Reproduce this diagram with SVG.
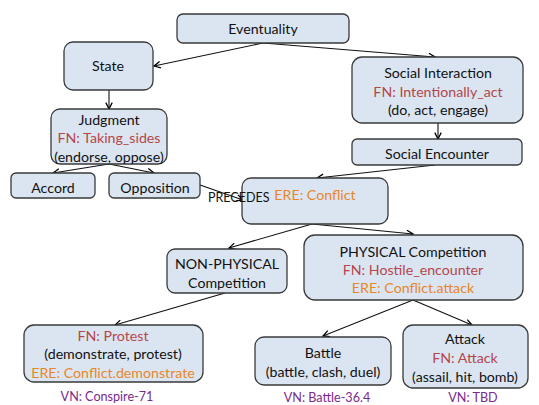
<svg xmlns="http://www.w3.org/2000/svg" width="539" height="405" viewBox="0 0 539 405">
<defs>
<marker id="ah" viewBox="0 0 10 10" refX="9" refY="5" markerWidth="8" markerHeight="8" markerUnits="userSpaceOnUse" orient="auto">
<path d="M1,1 L9,5 L1,9" fill="none" stroke="#000" stroke-width="1.6"/>
</marker>
<style>
.b{fill:#dbe5f1;stroke:#3a3a3a;stroke-width:1.3}
text{font-family:Lato,"Liberation Sans",sans-serif;font-size:14.2px;text-anchor:middle;fill:#111}
.fn{fill:#b5464a}
.ere{fill:#e8862a}
.vn{fill:#7a2a8c;font-size:12.6px}
.pr{font-size:12.5px;text-anchor:start}
.c line{stroke:#111;stroke-width:1.1;marker-end:url(#ah)}
</style>
</defs>
<g class="c">
<line x1="263" y1="43" x2="154" y2="66"/>
<line x1="263" y1="43" x2="435" y2="57"/>
<line x1="438" y1="123" x2="438" y2="139"/>
<line x1="435" y1="165" x2="317" y2="178"/>
<line x1="109" y1="90" x2="109" y2="109"/>
<line x1="109" y1="164" x2="53" y2="173"/>
<line x1="109" y1="164" x2="154" y2="173"/>
<line x1="200" y1="185" x2="243" y2="200"/>
<line x1="312" y1="224" x2="229" y2="248"/>
<line x1="312" y1="224" x2="413" y2="234"/>
<line x1="225" y1="293" x2="115" y2="325"/>
<line x1="413" y1="300" x2="323" y2="336"/>
<line x1="413" y1="300" x2="472" y2="325"/>
</g>
<g id="eventuality"><rect class="b" x="177" y="14" width="172" height="29" rx="6"/><text x="263" y="34">Eventuality</text></g>
<g id="state"><rect class="b" x="64" y="42" width="89" height="48" rx="9"/><text x="108" y="71">State</text></g>
<g id="social-interaction"><rect class="b" x="352" y="57" width="171" height="66" rx="10"/>
<text x="438" y="78">Social Interaction</text><text class="fn" x="438" y="97">FN: Intentionally_act</text><text x="438" y="115">(do, act, engage)</text></g>
<g id="social-encounter"><rect class="b" x="352" y="139" width="170" height="26" rx="5"/><text x="437" y="159">Social Encounter</text></g>
<g id="judgment"><rect class="b" x="51" y="109" width="116" height="55" rx="9"/>
<text x="109" y="125">Judgment</text><text class="fn" x="109" y="143">FN: Taking_sides</text><text x="109" y="162">(endorse, oppose)</text></g>
<g id="accord"><rect class="b" x="11" y="173" width="84" height="25" rx="5"/><text x="53" y="193">Accord</text></g>
<g id="opposition"><rect class="b" x="109" y="173" width="91" height="25" rx="5"/><text x="155" y="193">Opposition</text></g>
<g id="conflict"><rect class="b" x="242" y="178" width="146" height="46" rx="9"/><text class="ere" x="315" y="200">ERE: Conflict</text></g>
<text class="pr" x="208" y="202">PRECEDES</text>
<g id="non-physical"><rect class="b" x="167" y="249" width="120" height="44" rx="8"/>
<text x="227" y="269">NON-PHYSICAL</text><text x="227" y="288">Competition</text></g>
<g id="physical"><rect class="b" x="304" y="235" width="219" height="65" rx="11"/>
<text x="413" y="257">PHYSICAL Competition</text><text class="fn" x="413" y="275">FN: Hostile_encounter</text><text class="ere" x="413" y="293">ERE: Conflict.attack</text></g>
<g id="protest"><rect class="b" x="24" y="325" width="179" height="57" rx="10"/>
<text class="fn" x="113" y="341">FN: Protest</text><text x="113" y="359">(demonstrate, protest)</text><text class="ere" x="113" y="378">ERE: Conflict.demonstrate</text></g>
<text class="vn" x="107" y="401">VN: Conspire-71</text>
<g id="battle"><rect class="b" x="255" y="337" width="136" height="48" rx="9"/>
<text x="323" y="358">Battle</text><text x="323" y="377">(battle, clash, duel)</text></g>
<text class="vn" x="327" y="402">VN: Battle-36.4</text>
<g id="attack"><rect class="b" x="403" y="325" width="125" height="63" rx="10"/>
<text x="465" y="344">Attack</text><text class="fn" x="465" y="363">FN: Attack</text><text x="465" y="382">(assail, hit, bomb)</text></g>
<text class="vn" x="473" y="402">VN: TBD</text>
</svg>
